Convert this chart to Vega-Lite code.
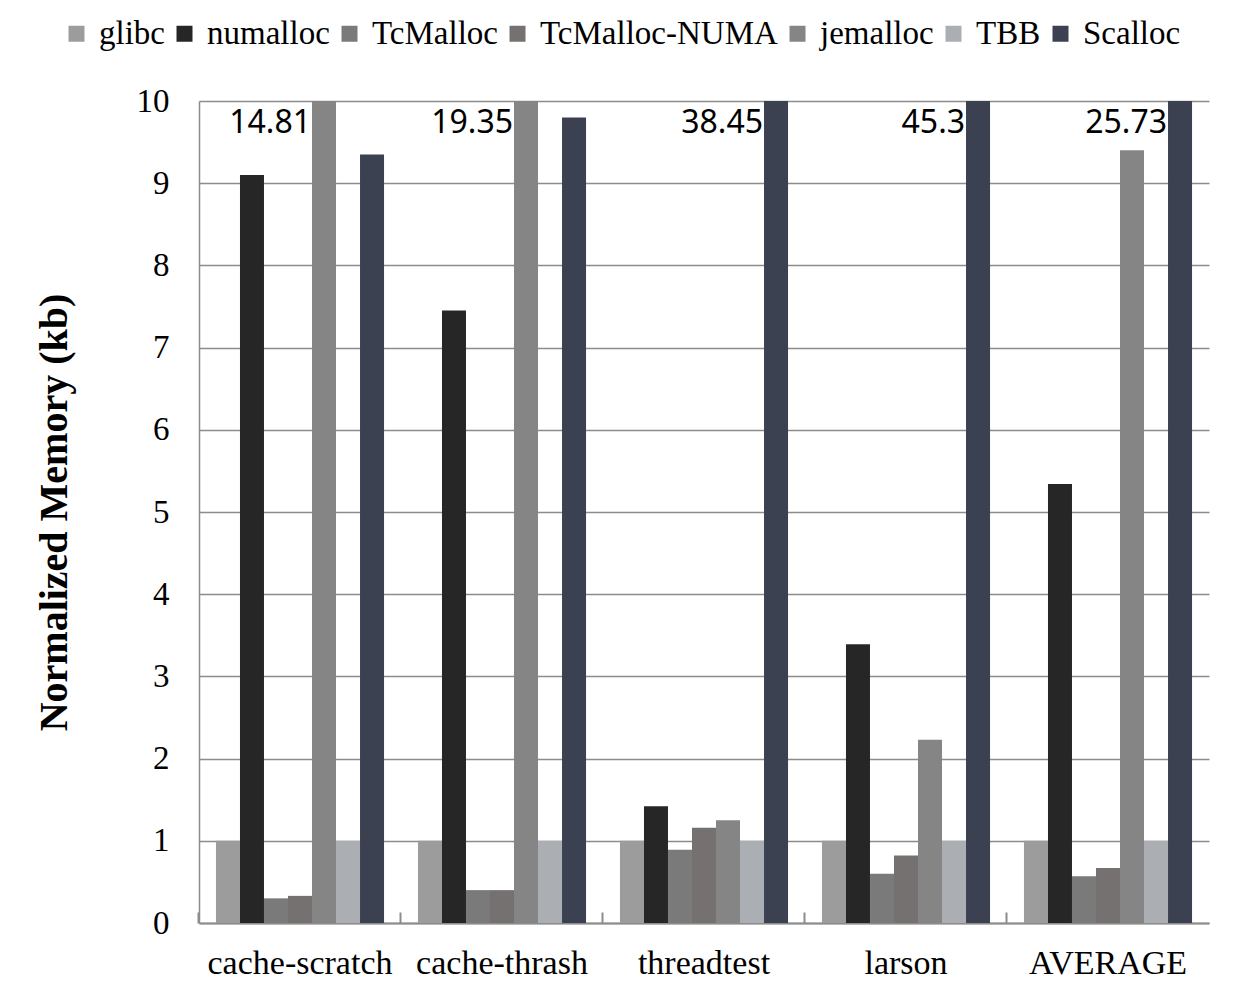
{
  "$schema": "https://vega.github.io/schema/vega-lite/v6.json",
  "width": 1010,
  "height": 822,
  "autosize": "none",
  "padding": {"left": 199, "top": 101, "right": 25, "bottom": 63},
  "background": "white",
  "config": {"view": {"stroke": null}},
  "data": {
    "values": [
      {"bench": "cache-scratch", "series": "glibc", "value": 1},
      {"bench": "cache-scratch", "series": "numalloc", "value": 9.1},
      {"bench": "cache-scratch", "series": "TcMalloc", "value": 0.3},
      {"bench": "cache-scratch", "series": "TcMalloc-NUMA", "value": 0.33},
      {"bench": "cache-scratch", "series": "jemalloc", "value": 14.81},
      {"bench": "cache-scratch", "series": "TBB", "value": 1},
      {"bench": "cache-scratch", "series": "Scalloc", "value": 9.35},
      {"bench": "cache-thrash", "series": "glibc", "value": 1},
      {"bench": "cache-thrash", "series": "numalloc", "value": 7.45},
      {"bench": "cache-thrash", "series": "TcMalloc", "value": 0.4},
      {"bench": "cache-thrash", "series": "TcMalloc-NUMA", "value": 0.4},
      {"bench": "cache-thrash", "series": "jemalloc", "value": 19.35},
      {"bench": "cache-thrash", "series": "TBB", "value": 1},
      {"bench": "cache-thrash", "series": "Scalloc", "value": 9.8},
      {"bench": "threadtest", "series": "glibc", "value": 1},
      {"bench": "threadtest", "series": "numalloc", "value": 1.42},
      {"bench": "threadtest", "series": "TcMalloc", "value": 0.89},
      {"bench": "threadtest", "series": "TcMalloc-NUMA", "value": 1.16},
      {"bench": "threadtest", "series": "jemalloc", "value": 1.25},
      {"bench": "threadtest", "series": "TBB", "value": 1},
      {"bench": "threadtest", "series": "Scalloc", "value": 38.45},
      {"bench": "larson", "series": "glibc", "value": 1},
      {"bench": "larson", "series": "numalloc", "value": 3.39},
      {"bench": "larson", "series": "TcMalloc", "value": 0.6},
      {"bench": "larson", "series": "TcMalloc-NUMA", "value": 0.82},
      {"bench": "larson", "series": "jemalloc", "value": 2.23},
      {"bench": "larson", "series": "TBB", "value": 1},
      {"bench": "larson", "series": "Scalloc", "value": 45.3},
      {"bench": "AVERAGE", "series": "glibc", "value": 1},
      {"bench": "AVERAGE", "series": "numalloc", "value": 5.34},
      {"bench": "AVERAGE", "series": "TcMalloc", "value": 0.57},
      {"bench": "AVERAGE", "series": "TcMalloc-NUMA", "value": 0.67},
      {"bench": "AVERAGE", "series": "jemalloc", "value": 9.4},
      {"bench": "AVERAGE", "series": "TBB", "value": 1},
      {"bench": "AVERAGE", "series": "Scalloc", "value": 25.73}
    ]
  },
  "encoding": {
    "x": {
      "field": "bench",
      "type": "nominal",
      "sort": ["cache-scratch", "cache-thrash", "threadtest", "larson", "AVERAGE"],
      "scale": {"paddingInner": 0.168, "paddingOuter": 0.084},
      "axis": {
        "title": null,
        "labelAngle": 0,
        "labelFont": "Liberation Serif",
        "labelFontSize": 34,
        "labelColor": "black",
        "labelPadding": 34,
        "labelLimit": 400,
        "labelOverlap": false,
        "domainColor": "#8c8c8c",
        "domainWidth": 2,
        "ticks": true,
        "bandPosition": -0.101,
        "tickColor": "#8c8c8c",
        "tickWidth": 2,
        "tickSize": -11,
        "grid": false
      }
    },
    "xOffset": {
      "field": "series",
      "type": "nominal",
      "sort": ["glibc", "numalloc", "TcMalloc", "TcMalloc-NUMA", "jemalloc", "TBB", "Scalloc"],
      "scale": {"paddingInner": 0, "paddingOuter": 0}
    }
  },
  "layer": [
    {
      "mark": {"type": "bar", "clip": true},
      "encoding": {
        "y": {
          "field": "value",
          "type": "quantitative",
          "scale": {"domain": [0, 10], "nice": false},
          "axis": {
            "title": "Normalized Memory (kb)",
            "titleFont": "Liberation Serif",
            "titleFontSize": 40,
            "titleFontWeight": "bold",
            "titleColor": "black",
            "titlePadding": 62,
            "values": [0, 1, 2, 3, 4, 5, 6, 7, 8, 9, 10],
            "format": "d",
            "labelFont": "Liberation Serif",
            "labelFontSize": 33,
            "labelColor": "black",
            "labelPadding": 30,
            "ticks": false,
            "grid": true,
            "gridColor": "#8c8c8c",
            "gridWidth": 1.5,
            "domainColor": "#8c8c8c",
            "domainWidth": 1.5
          }
        },
        "color": {
          "field": "series",
          "type": "nominal",
          "sort": ["glibc", "numalloc", "TcMalloc", "TcMalloc-NUMA", "jemalloc", "TBB", "Scalloc"],
          "scale": {
            "domain": ["glibc", "numalloc", "TcMalloc", "TcMalloc-NUMA", "jemalloc", "TBB", "Scalloc"],
            "range": ["#9c9c9c", "#262626", "#7a7a7a", "#767171", "#858585", "#abaeb3", "#3b4150"]
          },
          "legend": {
            "title": null,
            "orient": "none",
            "legendX": -139,
            "legendY": -84,
            "direction": "horizontal",
            "symbolType": "square",
            "symbolSize": 256,
            "symbolStrokeWidth": 0,
            "labelFont": "Liberation Serif",
            "labelFontSize": 33,
            "labelColor": "black",
            "labelOffset": 6,
            "columnPadding": 3,
            "labelLimit": 400
          }
        }
      }
    },
    {
      "transform": [{"filter": "datum.value > 10"}],
      "mark": {
        "type": "text",
        "font": "Noto Sans",
        "fontSize": 32,
        "align": "right",
        "baseline": "middle",
        "dx": -13,
        "dy": 22,
        "color": "black"
      },
      "encoding": {
        "y": {"datum": 10},
        "text": {"field": "value", "type": "quantitative", "format": ".2~f"}
      }
    }
  ]
}
